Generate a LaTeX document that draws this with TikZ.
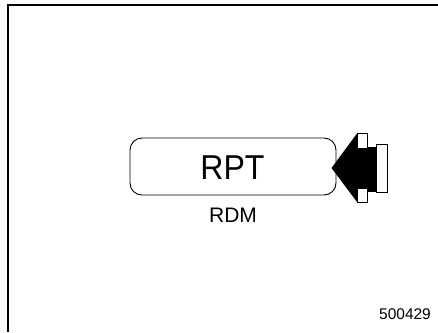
\documentclass[tikz,border=0pt]{standalone}
\usepackage{fontspec}
\setmainfont{Liberation Sans}
\begin{document}
\begin{tikzpicture}[x=1pt,y=-1pt,
  frameline/.style={line width=2pt,black},
  dispbox/.style={draw=black,line width=0.9pt,rounded corners=12pt},
  facerect/.style={draw=black,fill=white,line width=1pt},
  lbl/.style={inner sep=0pt,anchor=center}]
\useasboundingbox (0,0) rectangle (438,332);
\fill[white] (0,0) rectangle (438,332);
% frame (top and left only)
\coordinate (fTR) at (438,4.5);
\coordinate (fTL) at (7.5,4.5);
\coordinate (fBL) at (7.5,332);
\draw[frameline] (fTR) -- (fTL) -- (fBL);
% display box
\draw[dispbox] (130,138) rectangle (336,195);
\node[lbl] (rpt) at (232.5,167.5) {\fontsize{34.5}{36}\selectfont\scalebox{0.93}[1]{RPT}};
\node[lbl] (rdm) at (233,215.5) {\fontsize{21}{23}\selectfont RDM};
\node[lbl] (num) at (405,314) {\fontsize{15.5}{17}\selectfont 500429};
% arrow
\fill[black] (331.5,168) -- (357,133.5) -- (357,202) -- cycle;
\fill[black] (356,146.5) rectangle (377,191.5);
\draw[facerect] (357,133.5) rectangle (367,148);
\draw[facerect] (357,188.5) rectangle (367,202);
\draw[facerect] (376,144.5) rectangle (387,192.5);
\end{tikzpicture}
\end{document}
